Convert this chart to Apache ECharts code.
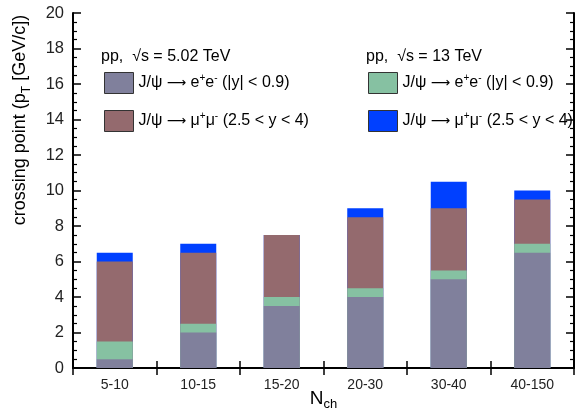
<!DOCTYPE html>
<html><head><meta charset="utf-8">
<script src="https://cdn.jsdelivr.net/npm/echarts@6/dist/echarts.min.js"></script>
<style>html,body{margin:0;padding:0;background:#fff}#c{width:576px;height:415px}</style>
</head><body><div id="c"></div>
<script>
var categories = ['5-10','10-15','15-20','20-30','30-40','40-150'];
var ee502 = [0.5, 2.0, 3.5, 4.0, 5.0, 6.5];
var mumu502 = [6.0, 6.5, 7.5, 8.5, 9.0, 9.5];
var ee13 = [1.5, 2.5, 4.0, 4.5, 5.5, 7.0];
var mumu13 = [6.5, 7.0, 7.5, 9.0, 10.5, 10.0];
var yTicks = [0, 20, 2];

var font = 'Liberation Sans, Arial, sans-serif';
var labels = {
  ee502: '{t|J/ψ }{ar|⟶}{t| e}{sp|+}{t|e}{sp|-}{t| (|y| < 0.9)}',
  mm502: '{t|J/ψ }{ar|⟶}{t| μ}{sp|+}{t|μ}{sp|-}{t| (2.5 < y < 4)}',
  ee13: '{t|J/ψ }{ar|⟶}{t| e}{sp|+}{t|e}{sp|-}{t| (|y| < 0.9)}',
  mm13: '{t|J/ψ }{ar|⟶}{t| μ}{sp|+}{t|μ}{sp|-}{t| (2.5 < y < 4)}'
};
var legRich = {
  t:{fontFamily:font, fontSize:16, color:'#000', lineHeight:20, verticalAlign:'middle'},
  ar:{fontFamily:'DejaVu Sans', fontSize:13.5, color:'#000', lineHeight:20, verticalAlign:'middle'},
  sp:{fontFamily:font, fontSize:10, color:'#000', lineHeight:20, verticalAlign:'top'}
};
var chart = echarts.init(document.getElementById('c'));
var axisLine = {show:true, lineStyle:{color:'#000', width:2}};
function bar(name, data, color){
  return {name:name, type:'bar', data:data, barWidth:36, barGap:'-100%',
    itemStyle:{color:color}, emphasis:{disabled:true}, xAxisIndex:0, yAxisIndex:0};
}
function legend(names, left){
  return {data:names, left:left, top:67, orient:'vertical', itemGap:16, itemWidth:29, itemHeight:21,
    icon:'rect', formatter:function(n){return labels[n];},
    textStyle:{fontFamily:font, fontSize:16, color:'#000', rich:legRich},
    itemStyle:{borderColor:'#333', borderWidth:1}, selectedMode:false};
}
chart.setOption({
  animation:false,
  textStyle:{fontFamily:font},
  grid:{left:73, right:2, top:13, bottom:47, containLabel:false, outerBoundsMode:'none'},
  title:[
    {text:'pp,  √s = 5.02 TeV', left:96, top:44, textStyle:{fontFamily:font, fontSize:16, fontWeight:'normal', color:'#000'}},
    {text:'pp,  √s = 13 TeV', left:361, top:44, textStyle:{fontFamily:font, fontSize:16, fontWeight:'normal', color:'#000'}}
  ],
  legend:[ legend(['ee502','mm502'], 99), legend(['ee13','mm13'], 363) ],
  graphic:[{
    type:'text', x:22, y:120, rotation:Math.PI/2,
    style:{text:'{a|crossing point (p}{s|T}{a| [GeV/c])}', align:'center', verticalAlign:'middle',
      rich:{a:{fontFamily:font, fontSize:18, fill:'#000', verticalAlign:'top', lineHeight:22},
            s:{fontFamily:font, fontSize:12, fill:'#000', verticalAlign:'bottom', lineHeight:22, padding:[10,0,0,0]}}}
  }],
  xAxis:[
    {type:'category', data:categories, boundaryGap:true, position:'bottom',
     axisLine:axisLine, axisTick:{show:true, inside:true, length:7, interval:0, lineStyle:{color:'#000', width:1.5}},
     axisLabel:{fontFamily:font, fontSize:14, color:'#222', margin:10},
     name:'{a|N}{s|ch}', nameLocation:'middle', nameGap:21, nameMoveOverlap:false,
     nameTextStyle:{rich:{a:{fontFamily:font, fontSize:19, color:'#000', verticalAlign:'top', lineHeight:22},
                          s:{fontFamily:font, fontSize:13, color:'#000', verticalAlign:'bottom', lineHeight:22, padding:[10,0,0,0]}}}},
    {type:'category', data:categories, boundaryGap:true, position:'top',
     axisLine:axisLine, axisTick:{show:true, inside:true, length:7, interval:0, lineStyle:{color:'#000', width:1.5}},
     axisLabel:{show:false}}
  ],
  yAxis:[
    {type:'value', min:yTicks[0], max:yTicks[1], interval:yTicks[2], position:'left',
     axisLine:axisLine, splitLine:{show:false},
     axisTick:{show:true, inside:true, length:8, lineStyle:{color:'#000', width:1.5}},
     minorTick:{show:true, splitNumber:4, length:4, lineStyle:{color:'#000', width:1.2}},
     axisLabel:{fontFamily:font, fontSize:16.5, color:'#222', margin:9}},
    {type:'value', min:yTicks[0], max:yTicks[1], interval:yTicks[2], position:'right',
     axisLine:axisLine, splitLine:{show:false},
     axisTick:{show:true, inside:true, length:8, lineStyle:{color:'#000', width:1.5}},
     minorTick:{show:true, splitNumber:4, length:4, lineStyle:{color:'#000', width:1.2}},
     axisLabel:{show:false}}
  ],
  series:[
    bar('mm13', mumu13, '#0040ff'),
    bar('mm502', mumu502, '#946a6e'),
    bar('ee13', ee13, '#86c1a2'),
    bar('ee502', ee502, '#80809c')
  ]
});
</script></body></html>
